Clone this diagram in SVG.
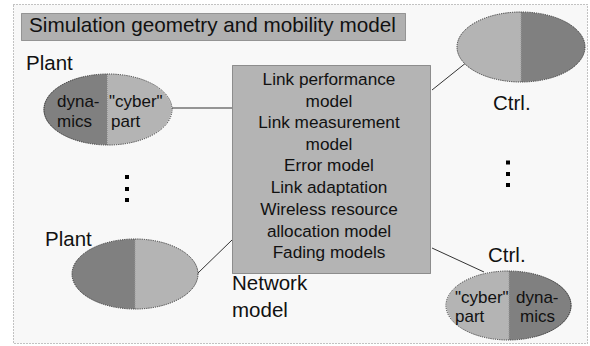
<svg xmlns="http://www.w3.org/2000/svg" width="590" height="346" viewBox="0 0 590 346">
<style>
text{font-family:"Liberation Sans",Arial,sans-serif;fill:#111}
.lbl{font-size:20.5px}
.in{font-size:17px}
.bx{font-size:17.2px;text-anchor:middle}
.dark{fill:#808080}
.light{fill:#b4b4b4}
.edge{fill:none;stroke:#333;stroke-width:1;stroke-dasharray:1.2 1}
.conn{stroke:#333;stroke-width:1;fill:none}
.dot{fill:#000}
</style>
<rect x="0" y="0" width="590" height="346" fill="#ffffff"/>
<rect x="13.5" y="4.5" width="574" height="339" fill="#f8f8f8" stroke="#888" stroke-width="1" stroke-dasharray="1 2"/>
<g id="title">
<rect x="21.5" y="13.5" width="384" height="27" fill="#b0b0b0" stroke="#555" stroke-width="1" stroke-dasharray="1 1"/>
<text class="lbl" x="29" y="32" style="font-size:20.7px">Simulation geometry and mobility model</text>
</g>
<g id="connectors">
<line class="conn" x1="172" y1="108" x2="232" y2="108"/>
<line class="conn" x1="198" y1="273" x2="232" y2="240"/>
<line class="conn" x1="432" y1="90" x2="472" y2="58"/>
<line class="conn" x1="432" y1="248" x2="484" y2="272"/>
</g>
<g id="network">
<rect x="232.5" y="65.5" width="198" height="208" fill="#b4b4b4" stroke="#444" stroke-width="1" stroke-dasharray="1 1"/>
<text class="bx" x="329" y="85">Link performance</text>
<text class="bx" x="329" y="106.5">model</text>
<text class="bx" x="329" y="128">Link measurement</text>
<text class="bx" x="329" y="149.5">model</text>
<text class="bx" x="329" y="171">Error model</text>
<text class="bx" x="329" y="193">Link adaptation</text>
<text class="bx" x="329" y="215">Wireless resource</text>
<text class="bx" x="329" y="236.5">allocation model</text>
<text class="bx" x="329" y="258">Fading models</text>
<text class="lbl" x="232" y="290">Network</text>
<text class="lbl" x="232" y="317">model</text>
</g>
<g id="plant1">
<text class="lbl" x="26" y="70">Plant</text>
<path class="dark" d="M107.5,74 A64,35.5 0 0 0 107.5,145 Z"/>
<path class="light" d="M107.5,74 A64,35.5 0 0 1 107.5,145 Z"/>
<line x1="107.5" y1="74" x2="107.5" y2="145" stroke="#999" stroke-width="1" stroke-dasharray="1 1"/>
<ellipse class="edge" cx="108" cy="109.5" rx="64" ry="35.5"/>
<text class="in" x="57" y="107">dyna-</text>
<text class="in" x="57" y="127">mics</text>
<text class="in" x="109" y="107">"cyber"</text>
<text class="in" x="111" y="127">part</text>
</g>
<g id="dots-left">
<rect class="dot" x="125" y="175" width="4" height="4"/>
<rect class="dot" x="125" y="187" width="4" height="4"/>
<rect class="dot" x="125" y="198" width="4" height="4"/>
</g>
<g id="plant2">
<text class="lbl" x="45" y="246">Plant</text>
<path class="dark" d="M135,239 A63,35 0 0 0 135,309 Z"/>
<path class="light" d="M135,239 A63,35 0 0 1 135,309 Z"/>
<line x1="135" y1="239" x2="135" y2="309" stroke="#999" stroke-width="1" stroke-dasharray="1 1"/>
<ellipse class="edge" cx="135" cy="274" rx="63" ry="35"/>
</g>
<g id="ctrl1">
<path class="light" d="M521,12 A64,35 0 0 0 521,82 Z"/>
<path class="dark" d="M521,12 A64,35 0 0 1 521,82 Z"/>
<line x1="521" y1="12" x2="521" y2="82" stroke="#999" stroke-width="1" stroke-dasharray="1 1"/>
<ellipse class="edge" cx="521" cy="47" rx="64" ry="35"/>
<text class="lbl" x="493" y="110">Ctrl.</text>
</g>
<g id="dots-right">
<rect class="dot" x="506" y="160.5" width="4" height="4"/>
<rect class="dot" x="506" y="172" width="4" height="4"/>
<rect class="dot" x="506" y="183" width="4" height="4"/>
</g>
<g id="ctrl2">
<text class="lbl" x="488" y="262">Ctrl.</text>
<path class="light" d="M509,271 A62.5,34.5 0 0 0 509,340 Z"/>
<path class="dark" d="M509,271 A62.5,34.5 0 0 1 509,340 Z"/>
<line x1="509" y1="271" x2="509" y2="340" stroke="#999" stroke-width="1" stroke-dasharray="1 1"/>
<ellipse class="edge" cx="508.5" cy="305.5" rx="62.5" ry="34.5"/>
<text class="in" x="455" y="303">"cyber"</text>
<text class="in" x="455" y="322">part</text>
<text class="in" x="516" y="303">dyna-</text>
<text class="in" x="520" y="322">mics</text>
</g>
</svg>
